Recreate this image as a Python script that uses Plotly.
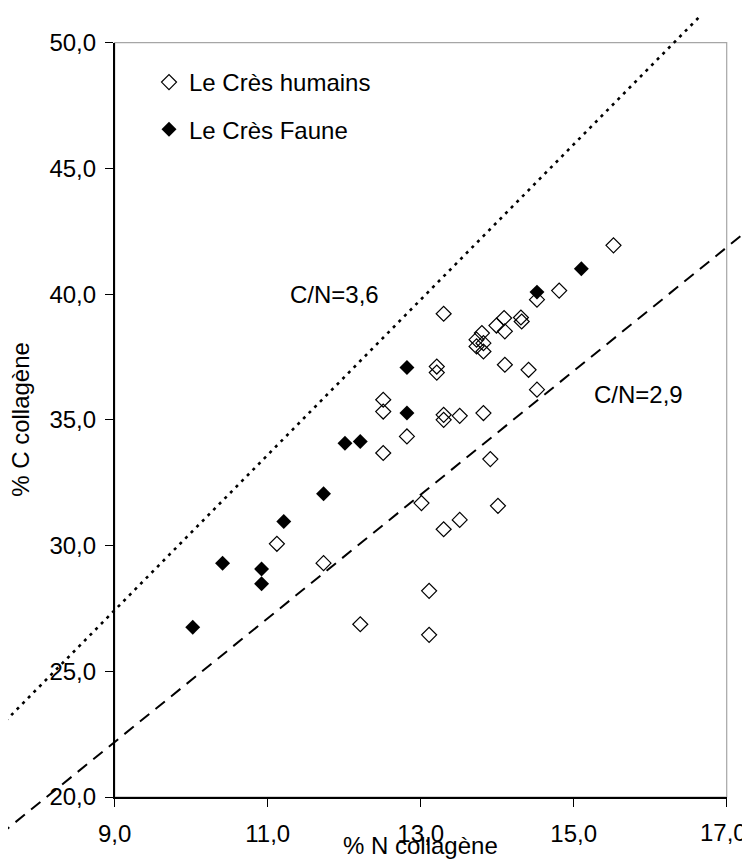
import plotly.graph_objects as go

# ---------------- data ----------------
hum_n = [15.52, 14.81, 14.52, 14.09, 14.31, 14.32, 13.99, 14.10, 13.80, 13.73,
         13.82, 13.73, 13.82, 14.10, 14.41, 13.30, 13.21, 13.21, 12.51, 12.51,
         13.30, 13.30, 13.51, 13.82, 12.82, 12.51, 14.52, 13.91, 11.12, 13.01,
         14.01, 13.51, 13.30, 13.11, 13.11, 12.21, 11.73]
hum_c = [41.94, 40.14, 39.78, 39.05, 39.07, 38.91, 38.75, 38.52, 38.45, 38.19,
         38.05, 37.92, 37.72, 37.19, 36.99, 39.22, 37.12, 36.88, 35.80, 35.33,
         35.20, 35.00, 35.16, 35.27, 34.34, 33.68, 36.20, 33.44, 30.07, 31.69,
         31.58, 31.02, 30.65, 28.20, 26.45, 26.87, 29.30]

faune_n = [15.10, 14.52, 12.82, 12.82, 12.01, 12.21, 11.73, 11.21, 10.41, 10.92, 10.92, 10.02]
faune_c = [41.01, 40.08, 37.08, 35.27, 34.07, 34.14, 32.06, 30.96, 29.30, 29.07, 28.48, 26.75]

# reference lines (end points)
line36_n = [7.50, 16.65]
line36_c = [22.80, 51.05]
line29_n = [7.50, 17.28]
line29_c = [18.50, 42.55]

label36 = "C/N=3,6"
label29 = "C/N=2,9"
label36_pos = (11.27, 40.0)
label29_pos = (15.235, 36.0)

x_ticks = [9, 11, 13, 15, 17]
x_tick_labels = ["9,0", "11,0", "13,0", "15,0", ""]
last_x_label = "17,0"          # drawn separately so it stays inside the page
y_ticks = [20, 25, 30, 35, 40, 45, 50]
x_range = [9, 17]
y_range = [20, 50]

series_names = ["Le Crès humains", "Le Crès Faune"]
x_title = "% N collagène"
y_title = "% C collagène"

# ---------------- layout geometry ----------------
# the page body has an 8px margin, so the figure starts at (8, 8) in the window
OFF = 8
W, H = 750 - OFF, 866 - OFF
x_dom = [(114.7 - OFF) / W, (726.7 - OFF) / W]
y_dom = [1 - (797.0 - OFF) / H, 1 - (42.7 - OFF) / H]


def full_range(rng, dom):
    span = (rng[1] - rng[0]) / (dom[1] - dom[0])
    return [rng[0] - dom[0] * span, rng[1] + (1 - dom[1]) * span]


FONT = "Liberation Sans, Arial, sans-serif"
FS = 24

fig = go.Figure()

fig.add_trace(go.Scatter(
    x=hum_n, y=hum_c, mode="markers", name=series_names[0],
    legendgroup="a",
    marker=dict(symbol="diamond-open", size=11.5, color="black",
                line=dict(width=1.2, color="black")),
    xaxis="x", yaxis="y", cliponaxis=False, hoverinfo="skip"))

fig.add_trace(go.Scatter(
    x=faune_n, y=faune_c, mode="markers", name=series_names[1],
    legendgroup="b",
    marker=dict(symbol="diamond", size=11.5, color="black",
                line=dict(width=0)),
    xaxis="x", yaxis="y", cliponaxis=False, hoverinfo="skip"))

# lines on a full-page subplot so they may run past the plot frame
fig.add_trace(go.Scatter(
    x=line36_n, y=line36_c, mode="lines", showlegend=False,
    line=dict(color="black", width=2.6, dash="3px,5px"),
    xaxis="x2", yaxis="y2", hoverinfo="skip"))
fig.add_trace(go.Scatter(
    x=line29_n, y=line29_c, mode="lines", showlegend=False,
    line=dict(color="black", width=2.0, dash="12px,8px"),
    xaxis="x2", yaxis="y2", hoverinfo="skip"))

axis_common = dict(
    showgrid=False, zeroline=False, showline=True, linecolor="black",
    linewidth=1.5, ticks="outside", ticklen=8, tickwidth=1.2,
    tickcolor="black", automargin=False,
    ticklabeloverflow="allow",
    tickfont=dict(family=FONT, size=FS, color="black"),
)

fig.update_layout(
    width=W, height=H,
    margin=dict(l=0, r=0, t=0, b=0, autoexpand=False),
    paper_bgcolor="white", plot_bgcolor="rgba(0,0,0,0)",
    separators=", ",
    font=dict(family=FONT, size=FS, color="black"),
    xaxis=dict(domain=x_dom, range=x_range, tickvals=x_ticks,
               ticktext=x_tick_labels,
               anchor="y", ticklabelstandoff=6, **axis_common),
    yaxis=dict(domain=y_dom, range=y_range, tickvals=y_ticks,
               tickformat=".1f",
               anchor="x", ticklabelstandoff=4, **axis_common),
    xaxis2=dict(domain=[0, 1], range=full_range(x_range, x_dom),
                anchor="y2", visible=False, automargin=False),
    yaxis2=dict(domain=[0, 1], range=full_range(y_range, y_dom),
                anchor="x2", visible=False, automargin=False),
    showlegend=True,
    legend=dict(x=(149 - OFF) / W, xanchor="left", y=1 - (60 - OFF) / H,
                yanchor="top",
                bgcolor="rgba(0,0,0,0)", borderwidth=0,
                traceorder="grouped", tracegroupgap=13,
                font=dict(family=FONT, size=FS, color="black"),
                itemwidth=30),
    shapes=[
        dict(type="rect", xref="x domain", yref="y domain", x0=0, x1=1,
             y0=0, y1=1, line=dict(color="#a6a6a6", width=1.2), layer="below"),
    ],
    annotations=[
        dict(text=label36, x=label36_pos[0], y=label36_pos[1], xref="x", yref="y",
             xanchor="left", yanchor="middle", showarrow=False,
             font=dict(family=FONT, size=FS, color="black")),
        dict(text=label29, x=label29_pos[0], y=label29_pos[1], xref="x", yref="y",
             xanchor="left", yanchor="middle", showarrow=False,
             font=dict(family=FONT, size=FS, color="black")),
        dict(text=last_x_label, x=x_ticks[-1], xref="x", xanchor="right",
             xshift=22, y=1 - (832 - OFF) / H, yref="paper", yanchor="middle",
             showarrow=False, font=dict(family=FONT, size=FS, color="black")),
        dict(text=x_title, x=(x_dom[0] + x_dom[1]) / 2, y=1 - (845 - OFF) / H,
             xref="paper", yref="paper", xanchor="center", yanchor="middle",
             showarrow=False, font=dict(family=FONT, size=FS, color="black")),
        dict(text=y_title, x=(21 - OFF) / W, y=(y_dom[0] + y_dom[1]) / 2,
             xref="paper", yref="paper", xanchor="center", yanchor="middle",
             textangle=-90, showarrow=False,
             font=dict(family=FONT, size=FS, color="black")),
    ],
)

fig.write_html("out.html")
